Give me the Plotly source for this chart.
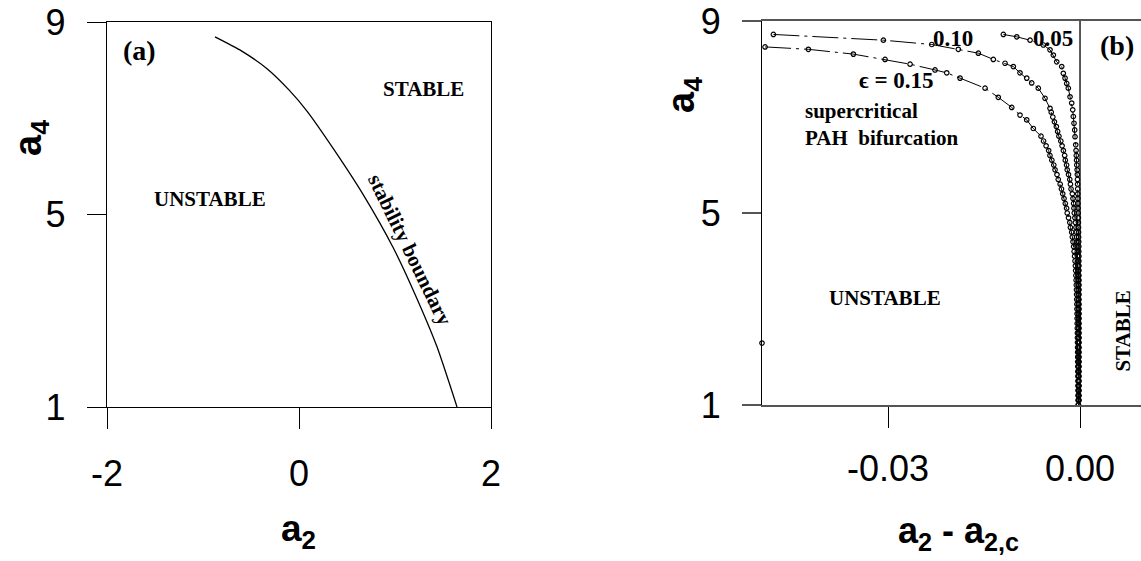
import plotly.graph_objects as go

W, H = 1141, 561

# ---------------- panel (a): stability boundary in the (a2, a4) plane ----------------
a2_boundary = [-0.875, -0.6, -0.333, -0.1, 0.083, 0.354, 0.667, 0.979, 1.229, 1.4375, 1.646]
a4_boundary = [8.69, 8.40, 8.03, 7.58, 7.15, 6.38, 5.42, 4.32, 3.25, 2.25, 1.0]

# ---------------- panel (b): PAH bifurcation curves, a2 - a2c vs a4 ----------------
eps015_x = [-0.04922, -0.04245, -0.03542, -0.03047, -0.02656, -0.02266, -0.02083, -0.01875,
            -0.01484, -0.01277, -0.01067, -0.00938, -0.00833, -0.00730,
            -0.0061, -0.0057, -0.0053, -0.0049, -0.0047, -0.0044, -0.0041, -0.0039, -0.0036,
            -0.0034, -0.0031, -0.0029, -0.0027, -0.0025, -0.0023, -0.0021, -0.0020, -0.0018,
            -0.0016, -0.0015, -0.0013, -0.0012, -0.0011, -0.0010, -0.00092, -0.00085, -0.00078,
            -0.00072, -0.00068, -0.00064, -0.00061, -0.00058, -0.00055, -0.00053, -0.00051,
            -0.00049, -0.00048, -0.00046, -0.00045, -0.00044, -0.00042, -0.00041, -0.00040,
            -0.00039, -0.00038, -0.00037, -0.00036, -0.00035, -0.00034, -0.00034, -0.00033,
            -0.00032, -0.00032, -0.00031, -0.00031, -0.00030, -0.00030]
eps015_y = [8.46, 8.41, 8.31, 8.20, 8.10, 7.98, 7.92, 7.81, 7.60, 7.41, 7.20, 7.04, 6.94, 6.76,
            6.6, 6.5, 6.4, 6.3, 6.2, 6.1, 6.0, 5.9, 5.8, 5.7, 5.6, 5.5, 5.4, 5.3, 5.2, 5.1, 5.0,
            4.9, 4.8, 4.7, 4.6, 4.5, 4.4, 4.3, 4.2, 4.1, 4.0, 3.9, 3.8, 3.7, 3.6, 3.5, 3.4, 3.3,
            3.2, 3.1, 3.0, 2.9, 2.8, 2.7, 2.6, 2.5, 2.4, 2.3, 2.2, 2.1, 2.0, 1.9, 1.8, 1.7, 1.6,
            1.5, 1.4, 1.3, 1.2, 1.1, 1.0]

eps010_x = [-0.04792, -0.03073, -0.02317, -0.01902, -0.01589, -0.01355, -0.01172, -0.01042,
            -0.00938, -0.00833, -0.00755, -0.00652, -0.00547, -0.00469,
            -0.0045, -0.00425, -0.0040, -0.0037, -0.0035, -0.0033, -0.0030, -0.0028, -0.0026,
            -0.0024, -0.0023, -0.0021, -0.0020, -0.0018, -0.0016, -0.0015, -0.0014, -0.0012,
            -0.0011, -0.0010, -0.00095, -0.00090, -0.00080, -0.00072, -0.00063, -0.00058,
            -0.00054, -0.00050, -0.00047, -0.00043, -0.00040, -0.00036, -0.00032, -0.00030,
            -0.00030, -0.00029, -0.00029, -0.00028, -0.00028, -0.00028, -0.00027, -0.00027,
            -0.00027, -0.00026, -0.00026, -0.00026, -0.00026, -0.00025, -0.00025, -0.00025,
            -0.00025, -0.00025, -0.00024, -0.00024, -0.00024, -0.00024, -0.00024, -0.00023,
            -0.00023, -0.00023, -0.00023, -0.00023]
eps010_y = [8.72, 8.60, 8.51, 8.41, 8.33, 8.20, 8.12, 8.05, 7.92, 7.81, 7.71, 7.60, 7.39, 7.18,
            7.1, 7.0, 6.9, 6.8, 6.7, 6.6, 6.5, 6.4, 6.3, 6.2, 6.1, 6.0, 5.9, 5.8, 5.7, 5.6, 5.5,
            5.4, 5.3, 5.2, 5.1, 5.0, 4.9, 4.8, 4.7, 4.6, 4.5, 4.4, 4.3, 4.2, 4.1, 4.0, 3.9, 3.8,
            3.7, 3.6, 3.5, 3.4, 3.3, 3.2, 3.1, 3.0, 2.9, 2.8, 2.7, 2.6, 2.5, 2.4, 2.3, 2.2, 2.1,
            2.0, 1.9, 1.8, 1.7, 1.6, 1.5, 1.4, 1.3, 1.2, 1.1, 1.0]

eps005_x = [-0.01198, -0.00989, -0.00781, -0.00573, -0.00469, -0.00417, -0.00364, -0.00286,
            -0.00261, -0.00234, -0.00208, -0.00183, -0.00156, -0.00130, -0.00114, -0.00105,
            -0.00094, -0.00083, -0.00078, -0.00067,
            -0.00062, -0.00058, -0.00054, -0.00050, -0.00045, -0.00042, -0.00040, -0.00038,
            -0.00036, -0.00035, -0.00033, -0.00032, -0.00030, -0.00028, -0.00026, -0.00025,
            -0.00024, -0.00023, -0.00022, -0.00020, -0.00019, -0.00019, -0.00018, -0.00018,
            -0.00017, -0.00017, -0.00017, -0.00016, -0.00016, -0.00016, -0.00016, -0.00016,
            -0.00015, -0.00015, -0.00015, -0.00015, -0.00015, -0.00015, -0.00015, -0.00015,
            -0.00015, -0.00015, -0.00015, -0.00015, -0.00015, -0.00015, -0.00015, -0.00015,
            -0.00015, -0.00015, -0.00015, -0.00015, -0.00015]
eps005_y = [8.72, 8.67, 8.60, 8.50, 8.40, 8.29, 8.15, 8.05, 7.91, 7.81, 7.70, 7.60, 7.42, 7.29,
            7.15, 7.01, 6.87, 6.73, 6.59, 6.42,
            6.3, 6.2, 6.1, 6.0, 5.9, 5.8, 5.7, 5.6, 5.5, 5.4, 5.3, 5.2, 5.1, 5.0, 4.9, 4.8, 4.7,
            4.6, 4.5, 4.4, 4.3, 4.2, 4.1, 4.0, 3.9, 3.8, 3.7, 3.6, 3.5, 3.4, 3.3, 3.2, 3.1, 3.0,
            2.9, 2.8, 2.7, 2.6, 2.5, 2.4, 2.3, 2.2, 2.1, 2.0, 1.9, 1.8, 1.7, 1.6, 1.5, 1.4, 1.3,
            1.2, 1.1, 1.0]

isolated_x = [-0.0497]
isolated_y = [2.29]

a4_ticks = [1, 5, 9]
a2_ticks = [-2, 0, 2]
a2_ticktext = ["-2", "0", "2"]
shift_ticks = [-0.03, 0.0]
shift_ticktext = ["-0.03", "0.00"]

SERIF = "Liberation Serif, Times New Roman, DejaVu Serif, serif"
SANS = "Liberation Sans, Arial, Helvetica, sans-serif"


def px_x(p):
    return p / W


def px_y(p):
    return 1 - p / H


fig = go.Figure()

fig.add_trace(go.Scatter(
    x=a2_boundary, y=a4_boundary, mode="lines",
    line=dict(color="black", width=1.3, shape="spline", smoothing=0.6),
    xaxis="x", yaxis="y", hoverinfo="skip"))

curve_style = dict(
    mode="lines+markers",
    line=dict(color="black", width=1, dash="26px,5px,3px,5px"),
    marker=dict(symbol="circle-open", size=4.5, color="black", line=dict(width=1.2)),
    xaxis="x2", yaxis="y2", hoverinfo="skip")

for xs, ys in [(eps015_x, eps015_y), (eps010_x, eps010_y), (eps005_x, eps005_y)]:
    fig.add_trace(go.Scatter(x=xs, y=ys, **curve_style))

fig.add_trace(go.Scatter(
    x=isolated_x, y=isolated_y, mode="markers",
    marker=dict(symbol="circle-open", size=4.5, color="black", line=dict(width=1.2)),
    xaxis="x2", yaxis="y2", hoverinfo="skip", cliponaxis=False))

# critical line a2 = a2c
fig.add_shape(type="line", xref="x2", yref="y2", x0=0, x1=0, y0=1, y1=9,
              line=dict(color="black", width=1.3))

tickfont = dict(family=SANS, size=36, color="black")
common = dict(ticks="outside", showgrid=False, zeroline=False, tickfont=tickfont,
              automargin=False)

fig.update_layout(
    width=W, height=H,
    margin=dict(l=0, r=0, t=0, b=0),
    paper_bgcolor="white", plot_bgcolor="white",
    showlegend=False,
    xaxis=dict(domain=[px_x(107), px_x(491)], range=[-2, 2], tickvals=a2_ticks,
               ticktext=a2_ticktext, ticklen=21, tickwidth=1.3, tickcolor="black",
               showline=True, linecolor="black", linewidth=1.3, mirror=True,
               ticklabelstandoff=14, anchor="y", **common),
    yaxis=dict(domain=[px_y(407), px_y(22)], range=[1, 9], tickvals=a4_ticks,
               ticklen=19, tickwidth=1.3, tickcolor="black",
               showline=True, linecolor="black", linewidth=1.3, mirror=True,
               ticklabelstandoff=14, anchor="x", **common),
    xaxis2=dict(domain=[px_x(762), 1.0], range=[-0.0497, 0.00953],
                tickvals=shift_ticks, ticktext=shift_ticktext,
                ticklen=21, tickwidth=1.2, tickcolor="black",
                showline=True, linecolor="#555555", linewidth=2, mirror=True,
                ticklabelstandoff=10, anchor="y2", **common),
    yaxis2=dict(domain=[px_y(405), px_y(21)], range=[1, 9], tickvals=a4_ticks,
                ticklen=19, tickwidth=2, tickcolor="#555555",
                showline=True, linecolor="black", linewidth=1.2, mirror=False,
                ticklabelstandoff=14, anchor="x2", **common),
)

ann = []


def label(text, x, y, xref, yref, size=21, angle=0, xanchor="center", family=SERIF,
          align="center"):
    ann.append(dict(text=text, x=x, y=y, xref=xref, yref=yref, showarrow=False,
                    textangle=angle, xanchor=xanchor, yanchor="middle", align=align,
                    font=dict(family=family, size=size, color="black")))


# panel (a) labels
label("<b>(a)</b>", -1.661, 8.40, "x", "y", size=28)
label("<b>STABLE</b>", 1.302, 7.60, "x", "y")
label("<b>UNSTABLE</b>", -0.927, 5.32, "x", "y")
label("<b>stability boundary</b>", 1.156, 4.26, "x", "y", angle=64)

# panel (b) labels
label("<b>0.10</b>", -0.01984, 8.64, "x2", "y2", size=23)
label("<b>0.05</b>", -0.00422, 8.64, "x2", "y2", size=23)
label("<b>\u03f5 = 0.15</b>", -0.02875, 7.77, "x2", "y2", size=23)
label("<b>(b)</b>", 0.00578, 8.48, "x2", "y2", size=28)
label("<b>supercritical<br>PAH\u00a0 bifurcation</b>", -0.04328, 6.84, "x2", "y2",
      size=21, xanchor="left", align="left")
label("<b>UNSTABLE</b>", -0.03047, 3.23, "x2", "y2")
label("<b>STABLE</b>", 0.0068, 2.54, "x2", "y2", angle=-90)

# axis titles
label("<b>a<sub>2</sub></b>", px_x(298), px_y(531), "paper", "paper", size=37, family=SANS)
label("<b>a<sub>2</sub> - a<sub>2,c</sub></b>", px_x(958), px_y(533), "paper", "paper",
      size=36, family=SANS)
label("<b>a<sub>4</sub></b>", px_x(31), px_y(138), "paper", "paper", size=38, angle=-90,
      family=SANS)
label("<b>a<sub>4</sub></b>", px_x(684), px_y(95), "paper", "paper", size=38, angle=-90,
      family=SANS)

fig.update_layout(annotations=ann)

fig.write_html("out.html")
